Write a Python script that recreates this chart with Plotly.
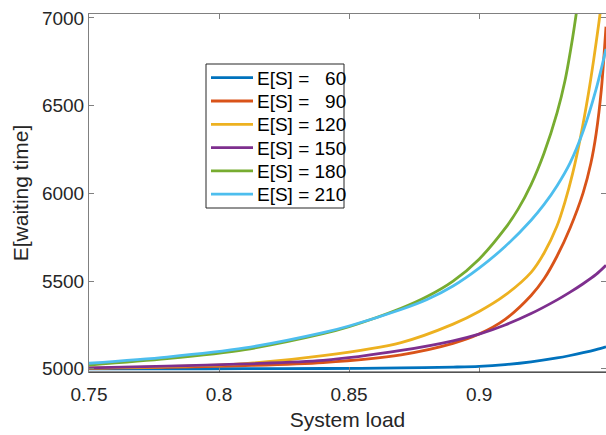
import plotly.graph_objects as go

# ---- data ----
legend_names = ["E[S] = \u00a0\u00a060", "E[S] = \u00a0\u00a090", "E[S] = 120",
                "E[S] = 150", "E[S] = 180", "E[S] = 210"]
colors = ["#0072BD", "#D95319", "#EDB120", "#7E2F8E", "#77AC30", "#4DBEEE"]

load_60 = [0.75, 0.78, 0.81, 0.84, 0.87, 0.89, 0.90, 0.91, 0.92, 0.93, 0.935, 0.94, 0.945, 0.9488]
wait_60 = [5000, 5000, 5001, 5002, 5005, 5010, 5014, 5024, 5040, 5062, 5076, 5092, 5110, 5126]

load_90 = [0.75, 0.78, 0.81, 0.84, 0.87, 0.89, 0.90, 0.91, 0.92, 0.925, 0.93, 0.935, 0.94, 0.943, 0.945, 0.947, 0.9488]
wait_90 = [5003, 5008, 5018, 5036, 5080, 5145, 5198, 5282, 5418, 5513, 5643, 5803, 6003, 6173, 6340, 6590, 6950]

load_120 = [0.75, 0.78, 0.81, 0.84, 0.87, 0.89, 0.90, 0.91, 0.92, 0.925, 0.93, 0.933, 0.936, 0.939, 0.942, 0.944, 0.946, 0.948]
wait_120 = [5005, 5013, 5030, 5075, 5150, 5255, 5327, 5420, 5550, 5660, 5815, 5950, 6115, 6320, 6565, 6755, 6965, 7190]

load_150 = [0.75, 0.78, 0.81, 0.84, 0.87, 0.89, 0.90, 0.91, 0.92, 0.93, 0.935, 0.94, 0.945, 0.9488]
wait_150 = [5006, 5015, 5028, 5048, 5105, 5160, 5198, 5250, 5315, 5393, 5437, 5485, 5538, 5590]

load_180 = [0.75, 0.78, 0.81, 0.84, 0.85, 0.87, 0.88, 0.89, 0.90, 0.91, 0.915, 0.92, 0.925, 0.93, 0.933, 0.936, 0.938]
wait_180 = [5022, 5058, 5110, 5200, 5240, 5345, 5412, 5500, 5625, 5800, 5910, 6050, 6230, 6460, 6640, 6890, 7090]

load_210 = [0.75, 0.78, 0.81, 0.84, 0.85, 0.87, 0.88, 0.89, 0.90, 0.91, 0.92, 0.925, 0.93, 0.935, 0.94, 0.945, 0.9488]
wait_210 = [5032, 5067, 5119, 5206, 5244, 5338, 5395, 5472, 5574, 5697, 5847, 5937, 6044, 6174, 6354, 6594, 6822]

x_ticks = [0.75, 0.8, 0.85, 0.9]
x_tick_labels = ["0.75", "0.8", "0.85", "0.9"]
y_ticks = [5000, 5500, 6000, 6500, 7000]
y_tick_labels = ["5000", "5500", "6000", "6500", "7000"]

series = [(load_60, wait_60), (load_90, wait_90), (load_120, wait_120),
          (load_150, wait_150), (load_180, wait_180), (load_210, wait_210)]

FONT = "Liberation Sans, Arial, Helvetica, sans-serif"
TXT = "#262626"
LW = 2.8

fig = go.Figure()
for (xs, ys), name, c in zip(series, legend_names, colors):
    fig.add_trace(go.Scatter(x=xs, y=ys, mode="lines", name=name, showlegend=False,
                             line=dict(color=c, width=LW, shape="spline", smoothing=0.8)))

axis_common = dict(showgrid=False, zeroline=False, showline=True, linecolor="#808080",
                   linewidth=1, mirror="ticks", ticks="inside", ticklen=5,
                   tickcolor="#808080", tickfont=dict(family=FONT, size=19, color=TXT))

# plot-area geometry (pixels) used to place the boxed legend
ML, MT, MB = 89, 14, 63
W_FIG, H_FIG = 606, 435
PW, PH = W_FIG - ML, H_FIG - MT - MB

fig.update_layout(
    width=W_FIG, height=H_FIG,
    margin=dict(l=ML, r=0, t=MT, b=MB),
    paper_bgcolor="white", plot_bgcolor="white",
    font=dict(family=FONT, color=TXT),
    xaxis=dict(range=[0.75, 0.9488], tickvals=x_ticks, ticktext=x_tick_labels,
               ticklabelstandoff=5,
               title=dict(text="System load", font=dict(family=FONT, size=21, color=TXT), standoff=8),
               **axis_common),
    yaxis=dict(range=[4982, 7022], tickvals=y_ticks, ticktext=y_tick_labels,
               title=dict(text="E[waiting time]", font=dict(family=FONT, size=21, color=TXT), standoff=7),
               **axis_common),
    showlegend=False,
)

fig.add_shape(type="line", xref="paper", yref="paper", x0=0, x1=1, y0=0, y1=0,
              line=dict(color=TXT, width=1))


def px_x(px):
    return (px - ML) / PW


def px_y(py):
    return (MT + PH - py) / PH


# boxed legend (MATLAB style)
box_l, box_r, box_t, box_b = 206, 344, 64, 208
fig.add_shape(type="rect", xref="paper", yref="paper",
              x0=px_x(box_l), x1=px_x(box_r), y0=px_y(box_b), y1=px_y(box_t),
              line=dict(color=TXT, width=1), fillcolor="white", layer="above")
row0, row_gap = 77.7, 23.3
for i, (name, c) in enumerate(zip(legend_names, colors)):
    ry = row0 + i * row_gap
    fig.add_shape(type="line", xref="paper", yref="paper",
                  x0=px_x(211), x1=px_x(253), y0=px_y(ry), y1=px_y(ry),
                  line=dict(color=c, width=LW), layer="above")
    fig.add_annotation(xref="paper", yref="paper", x=px_x(255), y=px_y(ry + 0.5),
                       xanchor="left", yanchor="middle", showarrow=False,
                       text=name, font=dict(family=FONT, size=19, color="#000000"))

fig.write_html("out.html")
